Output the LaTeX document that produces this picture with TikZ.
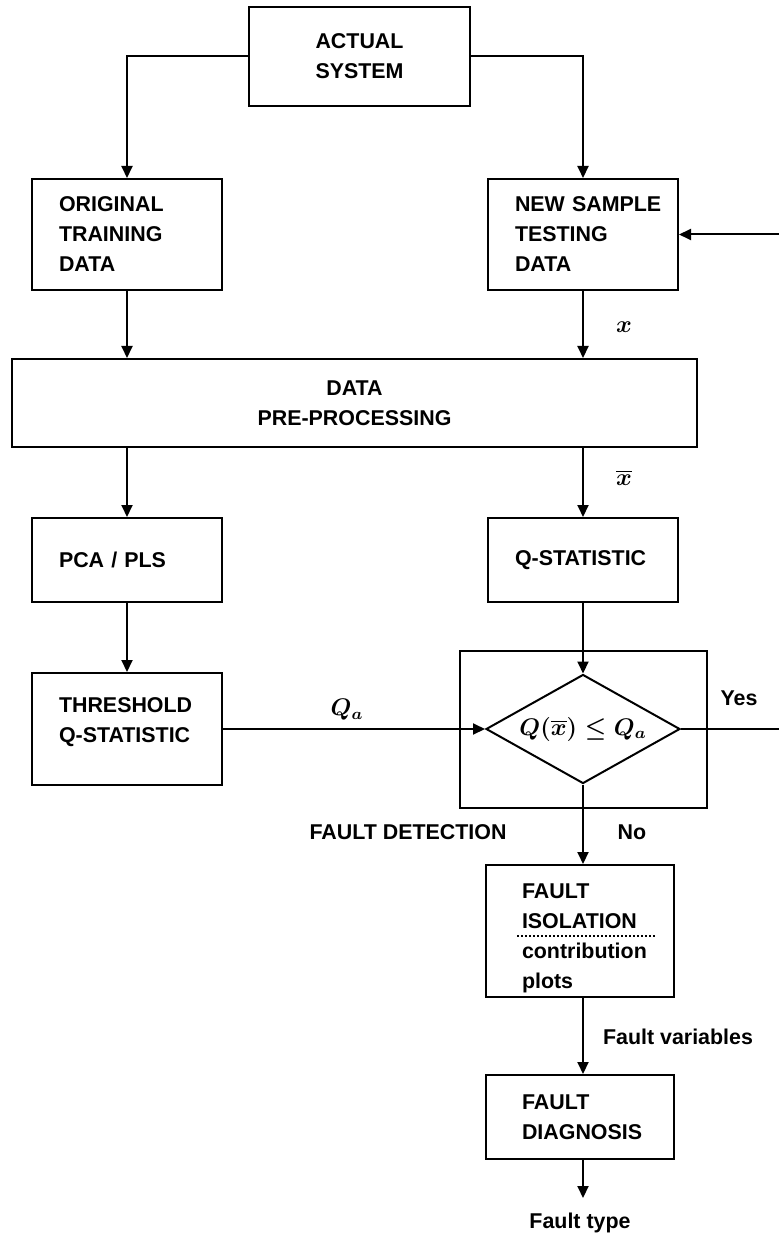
\documentclass[tikz,border=0pt]{standalone}
\usepackage{fontspec}
\setmainfont{Liberation Sans}
\usetikzlibrary{arrows.meta,shapes.geometric}

\tikzstyle{every node}=[font={\bfseries\fontsize{10.7}{15}\selectfont}]
\tikzstyle{mathlbl}=[font={\fontsize{11.5}{14}\selectfont\boldmath}]
\tikzstyle{line}=[line width=1pt]
\tikzstyle{flow}=[line, -{Triangle[length=6pt,width=5.5pt]}]
\tikzstyle{block}=[draw, line width=1pt, align=left, text width=68pt, inner xsep=13.5pt, minimum height=55.5pt]
\tikzstyle{cblock}=[draw, line width=1pt, align=center, inner sep=0pt]
\tikzstyle{fblock}=[block, text width=58pt, inner xsep=18pt]

\begin{document}
\begin{tikzpicture}[x=0.5pt, y=-0.5pt]
    \useasboundingbox (0,0) rectangle (779,1240);

    \node [cblock, minimum width=110.5pt, minimum height=49.5pt] (actual) at (359.5,56.5) {ACTUAL\\SYSTEM};
    \node [block] (orig) at (127,234.5) {ORIGINAL\\TRAINING\\DATA};
    \node [block] (newsmp) at (583,234.5) {\mbox{NEW SAMPLE}\\TESTING\\DATA};
    \node [cblock, minimum width=342.5pt, minimum height=44pt] (prep) at (354.5,403) {DATA\\PRE-PROCESSING};
    \node [block, minimum height=42pt] (pca) at (127,560) {PCA / PLS};
    \node [block, minimum height=42pt] (qstat) at (583,560) {Q-STATISTIC};
    \node [block, minimum height=56pt] (thresh) at (127,729) {THRESHOLD\\Q-STATISTIC\\[-6pt]\mbox{}};
    \node [draw, line width=1pt, minimum width=123.5pt, minimum height=78.5pt] (detect) at (583.5,729.5) {};
    \node [mathlbl, draw, line width=1pt, diamond, aspect=1.78, inner sep=0pt, minimum width=97pt, minimum height=54.5pt] (test) at (583,729) {$Q(\overline{x}) \le Q_a$};
    \node [fblock, inner ysep=0pt, minimum height=66pt] (isol) at (580,931) {\mbox{}\\FAULT\\ISOLATION\\contribution\\plots};
    \node [fblock, minimum height=42pt] (diag) at (580,1117) {FAULT\\DIAGNOSIS};

    \coordinate (yes) at (779,729);
    \coordinate (back) at (779,234.5);
    \coordinate (tip) at (583,1198);

    \node [mathlbl] (lblx) at (624,327) {$x$};
    \node [mathlbl] (lblxbar) at (624,478) {$\overline{x}$};
    \node [mathlbl] (lblqa) at (347,710) {$Q_a$};
    \node (lblyes) at (739,698) {Yes};
    \node (lblno) at (632,832) {No};
    \node (lbldet) at (408,832) {FAULT DETECTION};
    \node (lblvar) at (678,1037) {Fault variables};
    \node (lbltype) at (580,1223) {Fault type};

    \draw [flow] (actual.west) -| (orig.north);
    \draw [flow] (actual.east) -| (newsmp.north);
    \draw [flow] (orig.south) -- (orig.south |- prep.north);
    \draw [flow] (newsmp.south) -- (newsmp.south |- prep.north);
    \draw [flow] (prep.south -| pca.north) -- (pca.north);
    \draw [flow] (prep.south -| qstat.north) -- (qstat.north);
    \draw [flow] (pca.south) -- (thresh.north);
    \draw [flow] (qstat.south) -- (test.north);
    \draw [flow] (thresh.east) -- (test.west);
    \draw [line] (test.east) -- (yes);
    \draw [flow] (back) -- (newsmp.east);
    \draw [flow] (test.south) -- (test.south |- isol.north);
    \draw [flow] (isol.south -| test.south) -- (diag.north -| test.south);
    \draw [flow] (diag.south -| test.south) -- (tip);
    \draw [line, dash pattern=on 1pt off 1pt] (isol.center) ++(-63,5) -- ++(139,0);
\end{tikzpicture}
\end{document}
